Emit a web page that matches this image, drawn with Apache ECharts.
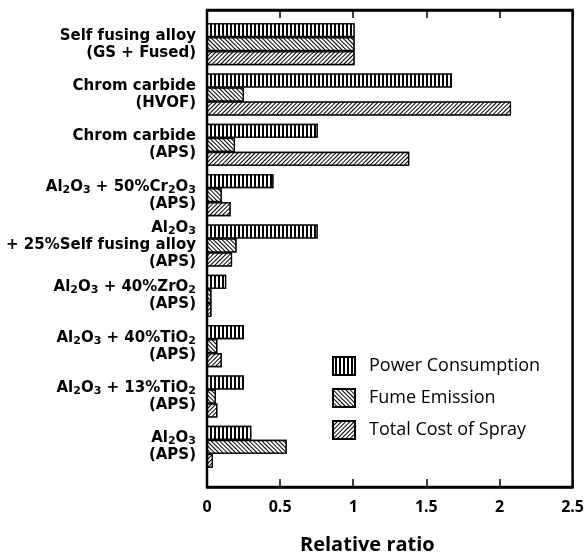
<!DOCTYPE html>
<html>
<head>
<meta charset="utf-8">
<script src="https://cdn.jsdelivr.net/npm/echarts@6/dist/echarts.min.js"></script>
<style>html,body{margin:0;padding:0;background:#fff;}#c{width:587px;height:559px;}</style>
</head>
<body>
<div id="c"></div>
<script>
// Categories (top to bottom)
var categories = [
  'Self fusing alloy\n(GS + Fused)',
  'Chrom carbide\n(HVOF)',
  'Chrom carbide\n(APS)',
  'Al2O3 + 50%Cr2O3\n(APS)',
  'Al2O3\n+ 25%Self fusing alloy\n(APS)',
  'Al2O3 + 40%ZrO2\n(APS)',
  'Al2O3 + 40%TiO2\n(APS)',
  'Al2O3 + 13%TiO2\n(APS)',
  'Al2O3\n(APS)'
];
var powerConsumption = [1.00, 1.66, 0.75, 0.45, 0.75, 0.13, 0.25, 0.25, 0.30];
var fumeEmission     = [1.00, 0.25, 0.19, 0.10, 0.20, 0.03, 0.07, 0.06, 0.54];
var totalCost        = [1.00, 2.06, 1.37, 0.16, 0.17, 0.03, 0.10, 0.07, 0.04];
var seriesNames = ['Power Consumption', 'Fume Emission', 'Total Cost of Spray'];
var xTicks = [0, 0.5, 1, 1.5, 2, 2.5];

var FONT = 'Open Sans';
var LFONT = 'DejaVu Sans';
var chart = echarts.init(document.getElementById('c'), null, {renderer: 'canvas'});

function fmtLabel(v) {
  return v.replace(/([A-Za-z])(\d)/g, '$1{s|$2}');
}
function xFmt(v) {
  return String(v);
}
function barStyle(decal) {
  return {color: '#fff', borderColor: '#000', borderWidth: 1.3, decal: decal};
}
var decals = [
  {symbol: 'rect', symbolSize: 1, color: '#000', backgroundColor: '#fff', dashArrayX: [1, 0], dashArrayY: [2, 2], rotation: Math.PI / 2},
  {symbol: 'rect', symbolSize: 1, color: '#000', backgroundColor: '#fff', dashArrayX: [1, 0], dashArrayY: [1, 2], rotation: Math.PI / 4},
  {symbol: 'rect', symbolSize: 1, color: '#000', backgroundColor: '#fff', dashArrayX: [1, 0], dashArrayY: [1, 2], rotation: -Math.PI / 4}
];
var dataSets = [powerConsumption, fumeEmission, totalCost];

var option = {
  animation: false,
  backgroundColor: '#fff',
  textStyle: {fontFamily: FONT, color: '#000'},
  title: {
    text: 'Relative ratio', left: 300, top: 535, padding: 0,
    textStyle: {fontFamily: FONT, fontSize: 20, fontWeight: 'bold', color: '#000'}
  },
  legend: {
    orient: 'vertical', left: 332, top: 356, padding: 0, itemWidth: 22, itemHeight: 18, itemGap: 12,
    icon: 'rect', data: seriesNames,
    textStyle: {fontFamily: FONT, fontSize: 18, color: '#000', padding: [0, 0, 0, 9]}
  },
  grid: [
    {left: 207, right: 11, top: 10, bottom: 72, show: true, borderColor: '#000', borderWidth: 2.5, backgroundColor: 'transparent'},
    {left: 207, right: 11, top: 19, bottom: 87}
  ],
  xAxis: [
    {gridIndex: 0, type: 'value', min: 0, max: 2.5, interval: 0.5, position: 'bottom',
     axisLine: {show: true, lineStyle: {color: '#000', width: 2.5}},
     axisTick: {show: true, inside: true, length: 8, lineStyle: {color: '#000', width: 1.5}},
     splitLine: {show: false},
     axisLabel: {margin: 12, fontFamily: FONT, fontSize: 16, fontWeight: 'bold', color: '#000', formatter: xFmt}},
    {gridIndex: 0, type: 'value', min: 0, max: 2.5, interval: 0.5, position: 'top',
     axisLine: {show: true, lineStyle: {color: '#000', width: 2.5}},
     axisTick: {show: true, inside: true, length: 8, lineStyle: {color: '#000', width: 1.5}},
     splitLine: {show: false}, axisLabel: {show: false}},
    {gridIndex: 1, type: 'value', min: 0, max: 2.5, show: false, splitLine: {show: false}}
  ],
  yAxis: [
    {gridIndex: 0, type: 'value', show: false, splitLine: {show: false}},
    {gridIndex: 1, type: 'category', inverse: true, data: categories,
     axisLine: {show: false}, axisTick: {show: false}, splitLine: {show: false},
     axisLabel: {
       margin: 11, fontFamily: LFONT, fontSize: 15, fontWeight: 'bold', color: '#000', lineHeight: 17, align: 'right',
       formatter: fmtLabel,
       rich: {s: {fontFamily: LFONT, fontSize: 11, fontWeight: 'bold', color: '#000', verticalAlign: 'bottom', lineHeight: 13}}
     }}
  ],
  series: seriesNames.map(function (n, i) {
    return {
      name: n, type: 'bar', xAxisIndex: 2, yAxisIndex: 1,
      barWidth: 14, barGap: '0%',
      itemStyle: barStyle(decals[i]),
      data: dataSets[i]
    };
  })
};
chart.setOption(option);
</script>
</body>
</html>
